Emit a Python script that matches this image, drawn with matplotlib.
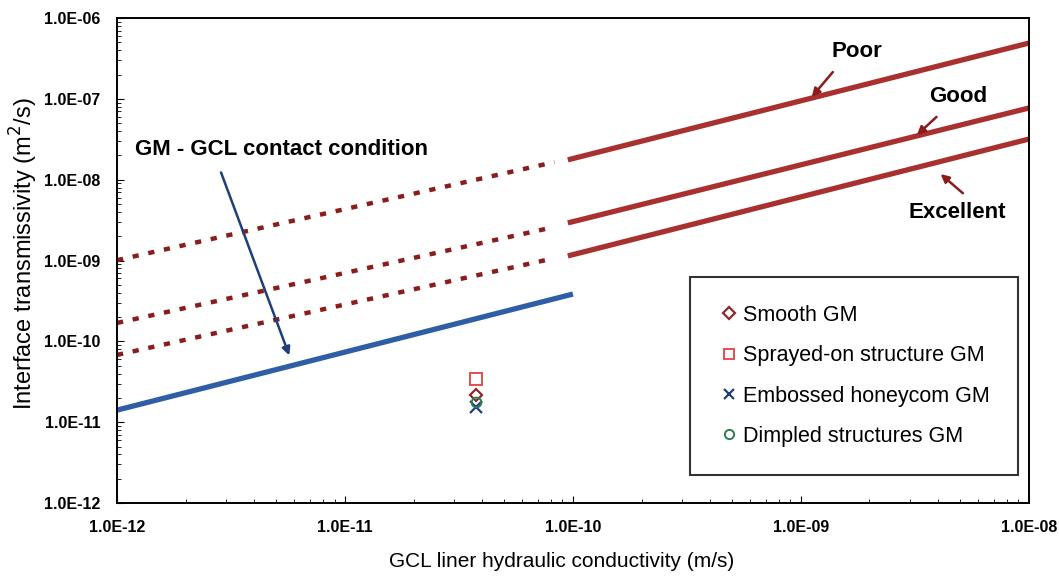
import numpy as np
import matplotlib.pyplot as plt
from matplotlib.ticker import LogLocator, FuncFormatter

plt.rcParams['font.family'] = ['Liberation Sans', 'DejaVu Sans']

# contact condition lines (x = GCL hydraulic conductivity, y = transmissivity)
x_dotted = [1e-12, 8.3e-11]
poor_dotted = [1.01e-9, 1.65e-8]
good_dotted = [1.69e-10, 2.6e-9]
exc_dotted = [6.8e-11, 1.07e-9]

x_solid = [0.95e-10, 1e-8]
poor_solid = [1.76e-8, 4.9e-7]
good_solid = [2.92e-9, 7.7e-8]
exc_solid = [1.14e-9, 3.18e-8]

x_gm = [1e-12, 1e-10]
gm_line = [1.41e-11, 3.85e-10]

# test points
k_test = [3.77e-11]
smooth = [2.16e-11]
sprayed = [3.41e-11]
embossed = [1.55e-11]
dimpled = [1.78e-11]

dark_red = '#8a1c1c'
red = '#a8312f'
blue = '#2f5ea6'

fig = plt.figure(figsize=(10.59, 5.76), dpi=100)
ax = fig.add_axes([0.1105, 0.1267, 0.861, 0.842])
ax.set_xscale('log')
ax.set_yscale('log')
ax.set_xlim(1e-12, 1e-8)
ax.set_ylim(1e-12, 1e-6)

for yv in (poor_dotted, good_dotted, exc_dotted):
    ax.plot(x_dotted, yv, color=dark_red, lw=3.2, ls=(0, (1.4, 2.2)),
            solid_capstyle='butt', dash_capstyle='butt')
for yv in (poor_solid, good_solid, exc_solid):
    ax.plot(x_solid, yv, color=red, lw=3.8, solid_capstyle='butt')
ax.plot(x_gm, gm_line, color=blue, lw=3.8, solid_capstyle='butt')

ax.plot(k_test, smooth, ls='none', marker='D', ms=6, mfc='none', mec='#8b2a2a', mew=1.6,
        label='Smooth GM')
ax.plot(k_test, sprayed, ls='none', marker='s', ms=8, mfc='none', mec='#e05050', mew=1.4,
        label='Sprayed-on structure GM')
ax.plot(k_test, embossed, ls='none', marker='x', ms=8, color='#1f3f7a', mew=1.6,
        label='Embossed honeycom GM')
ax.plot(k_test, dimpled, ls='none', marker='o', ms=7, mfc='none', mec='#2e7d4f', mew=1.4,
        label='Dimpled structures GM')

leg = ax.legend(loc='lower right', bbox_to_anchor=(0.988, 0.058), fontsize=15.5,
                frameon=True, fancybox=False, edgecolor='black', handlelength=1.0,
                handletextpad=0.15, labelspacing=0.9, borderpad=1.3, markerscale=0.95,
                borderaxespad=0)
leg.get_frame().set_linewidth(1.5)

# annotations, placed in axes fraction
arrow_kw = dict(arrowstyle='-|>', color=dark_red, lw=1.8, mutation_scale=12)
bold = dict(fontsize=16, fontweight='bold', ha='center', va='center',
            xycoords='axes fraction', textcoords='axes fraction')
ax.annotate('Poor', xy=(0.811, 0.930), **bold)
ax.annotate('', xy=(0.760, 0.833), xytext=(0.787, 0.893), arrowprops=arrow_kw,
            xycoords='axes fraction', textcoords='axes fraction')
ax.annotate('Good', xy=(0.922, 0.839), **bold)
ax.annotate('', xy=(0.875, 0.755), xytext=(0.901, 0.800), arrowprops=arrow_kw,
            xycoords='axes fraction', textcoords='axes fraction')
ax.annotate('Excellent', xy=(0.922, 0.598), **bold)
ax.annotate('', xy=(0.901, 0.682), xytext=(0.930, 0.635), arrowprops=arrow_kw,
            xycoords='axes fraction', textcoords='axes fraction')
ax.text(0.020, 0.728, 'GM - GCL contact condition', fontsize=16,
        fontweight='bold', ha='left', va='center', transform=ax.transAxes)
ax.annotate('', xy=(0.190, 0.299), xytext=(0.113, 0.687),
            xycoords='axes fraction', textcoords='axes fraction',
            arrowprops=dict(arrowstyle='-|>', color='#1f3f7a', lw=1.8, mutation_scale=12))

sci = FuncFormatter(lambda v, p: '1.0E-%02d' % -int(round(np.log10(v))))
ax.xaxis.set_major_formatter(sci)
ax.yaxis.set_major_formatter(sci)
ax.xaxis.set_major_locator(LogLocator(base=10, numticks=10))
ax.yaxis.set_major_locator(LogLocator(base=10, numticks=10))
ax.tick_params(which='both', direction='in', labelsize=11.5)
ax.tick_params(which='major', length=5, pad=12)
ax.tick_params(which='minor', length=3)
for lab in ax.get_xticklabels() + ax.get_yticklabels():
    lab.set_fontweight('bold')
for s in ax.spines.values():
    s.set_linewidth(1.4)

ax.set_xlabel('GCL liner hydraulic conductivity (m/s)', fontsize=15)
ax.set_ylabel('Interface transmissivity (m$^2$/s)', fontsize=17)
ax.xaxis.set_label_coords(0.488, -0.100)
ax.yaxis.set_label_coords(-0.084, 0.515)

fig.savefig('out.png', dpi=100)
